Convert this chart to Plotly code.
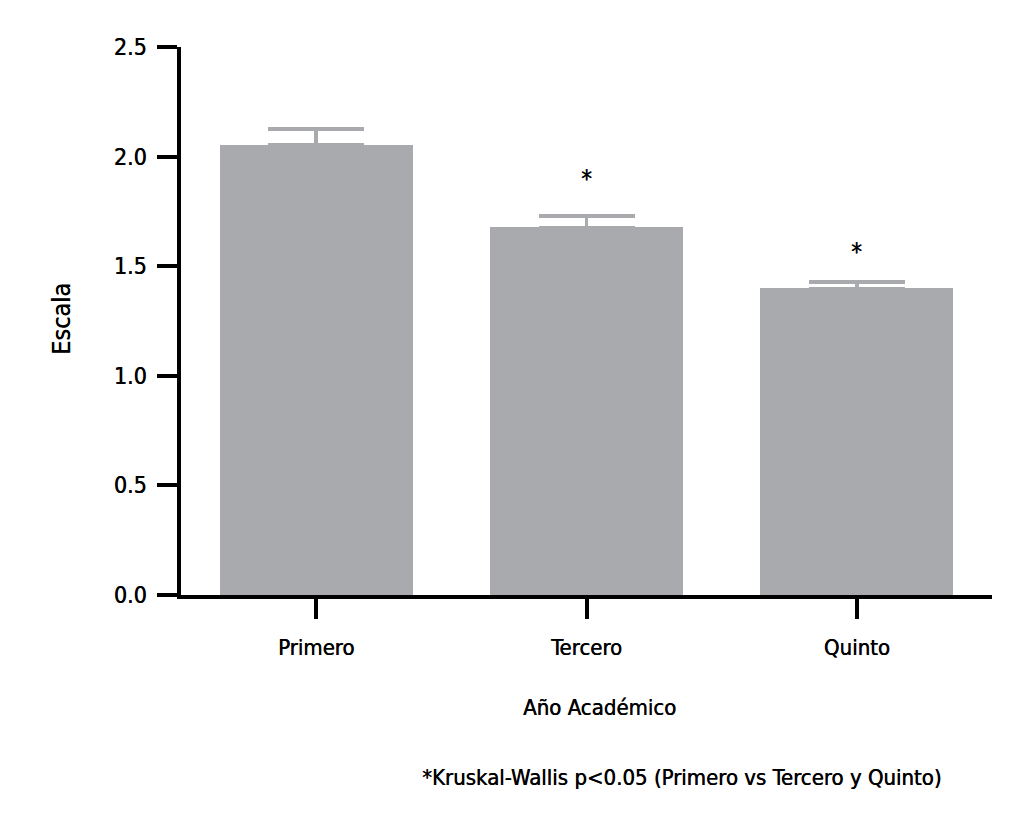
import plotly.graph_objects as go

categories = ["Primero", "Tercero", "Quinto"]
means = [2.053, 1.677, 1.399]
sem = [0.074, 0.053, 0.030]
star_y = [None, 1.90, 1.565]
y_ticks = [0.0, 0.5, 1.0, 1.5, 2.0, 2.5]
y_tick_labels = ["0.0", "0.5", "1.0", "1.5", "2.0", "2.5"]

FONT = "DejaVu Sans Condensed, Liberation Sans Narrow, sans-serif"
GRAY = "#a9aaad"
SHADOW = "0.45px 0 0 #000"

# page body has an 8px margin; plot area wanted at screen x 180..992, y 47..595
L, R, T, B = 173, 45, 39, 246
W, H = 1029, 833
PW, PH = W - L - R, H - T - B


def sx(px):
    return (px - 8 - L) / PW


def sy(py):
    return (H - B - (py - 8)) / PH


fig = go.Figure()
fig.add_trace(go.Bar(
    x=categories, y=means, width=0.713,
    marker=dict(color=GRAY, line=dict(width=0)),
    error_y=dict(type="data", symmetric=False, array=sem, arrayminus=[0, 0, 0],
                 color=GRAY, thickness=3.5, width=48),
    showlegend=False,
))

for c, s in zip(categories, star_y):
    if s is not None:
        fig.add_annotation(x=c, y=s, text="*", showarrow=False,
                           xanchor="center", yanchor="middle",
                           font=dict(family=FONT, size=24, color="black", shadow=SHADOW),
                           xref="x", yref="y")

fig.add_annotation(text="Escala", textangle=-90, x=sx(61), y=sy(319),
                   xref="paper", yref="paper", xanchor="center", yanchor="middle",
                   showarrow=False,
                   font=dict(family=FONT, size=25, color="black", shadow=SHADOW))
fig.add_annotation(text="Año Académico", x=sx(599), y=sy(707),
                   xref="paper", yref="paper", xanchor="center", yanchor="middle",
                   showarrow=False,
                   font=dict(family=FONT, size=22, color="black", shadow=SHADOW))
fig.add_annotation(text="*Kruskal-Wallis p<0.05 (Primero vs Tercero y Quinto)",
                   x=sx(681), y=sy(777),
                   xref="paper", yref="paper", xanchor="center", yanchor="middle",
                   showarrow=False,
                   font=dict(family=FONT, size=22, color="black", shadow=SHADOW))

fig.update_layout(
    width=W, height=H,
    margin=dict(l=L, r=R, t=T, b=B),
    plot_bgcolor="white", paper_bgcolor="white",
    font=dict(family=FONT, size=22, color="black"),
    bargap=0,
)
fig.update_xaxes(
    range=[-0.5, 2.5], showline=True, linecolor="black", linewidth=3.5,
    ticks="outside", ticklen=20, tickwidth=3.5, tickcolor="black",
    showgrid=False, zeroline=False, ticklabelstandoff=10,
    tickfont=dict(family=FONT, size=22, shadow=SHADOW),
)
fig.update_yaxes(
    range=[0, 2.5], showline=True, linecolor="black", linewidth=3.5,
    ticks="outside", ticklen=20, tickwidth=3.5, tickcolor="black",
    tickvals=y_ticks, ticktext=y_tick_labels,
    showgrid=False, zeroline=False, ticklabelstandoff=6,
    tickfont=dict(family=FONT, size=23, shadow=SHADOW),
)

fig.write_html("out.html")
